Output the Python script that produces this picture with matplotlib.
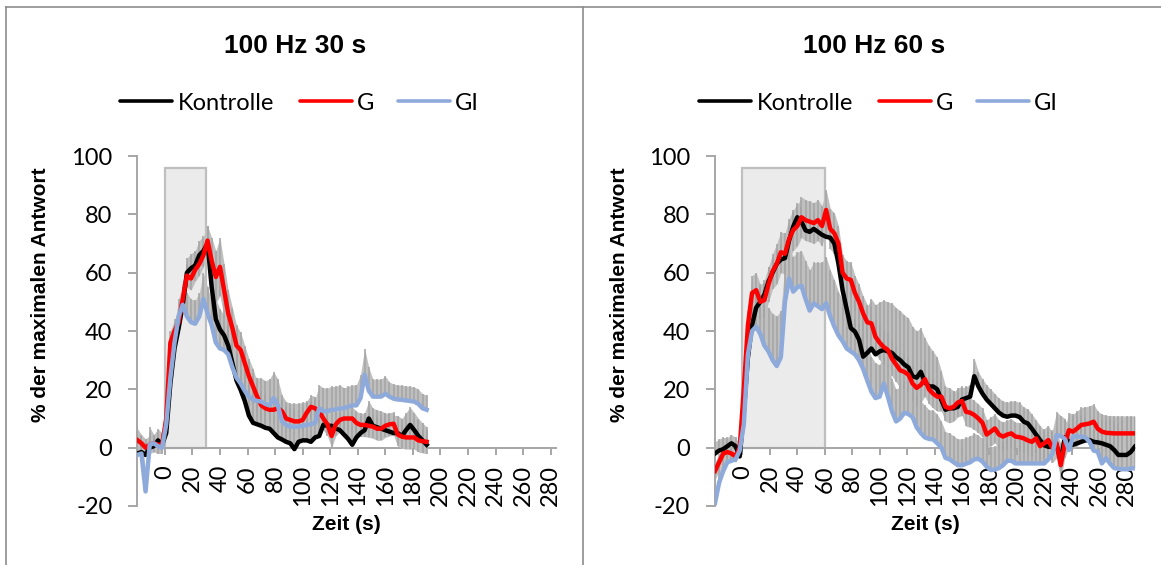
import numpy as np
import matplotlib
matplotlib.use("Agg")
import matplotlib.pyplot as plt
from matplotlib.patches import Rectangle
from matplotlib.lines import Line2D

plt.rcParams["axes.unicode_minus"] = False

# ---------------- data ----------------
series_names = ["Kontrolle", "G", "GI"]
series_colors = ["#000000", "#ff0000", "#8eaadb"]
error_direction = ["plus", "both", "plus"]
titles = ["100 Hz 30 s", "100 Hz 60 s"]
stim_duration = [30, 60]
stim_height = 96
xticks = [0, 20, 40, 60, 80, 100, 120, 140, 160, 180, 200, 220, 240, 260, 280]
yticks = [-20, 0, 20, 40, 60, 80, 100]

# 30 s panel (time in s, step 3 s from -20 to 190)
t30 = np.arange(-20, 191, 3)
k30 = [-2, -1.5, -2.5, 0, 0.5, 2.5, 1, 5, 22, 34,
       41, 49, 60, 61.5, 62.5, 66, 67.5, 70, 55, 44,
       40.5, 38.5, 35, 29, 23, 19.8, 16, 11, 8.5, 8,
       7.5, 6.8, 6.5, 5, 3.5, 2.8, 2, 1.5, -0.5, 2,
       2.5, 2.5, 2, 3.5, 4, 7.8, 7.5, 7.5, 6.6, 6,
       4.5, 3, 1, 3.5, 5, 6, 10, 7.5, 7, 6.5,
       6, 5.5, 5, 5, 4, 6, 7.8, 6, 4, 2.5,
       1]
g30 = [2.6, 1.5, 0, 1, 1.5, 1, 1, 10, 36, 40,
       43, 51, 59, 58, 61, 63, 66, 71, 64, 58.5,
       62, 54, 46, 41, 35, 33.5, 29, 24.5, 21, 17.5,
       14.5, 13.5, 13, 13, 13.5, 12.5, 10, 9.5, 9, 9,
       9.5, 12, 14, 13.5, 12.5, 10, 8, 4, 8, 9.5,
       10, 10, 10, 8.5, 7.8, 7.8, 7.5, 7.2, 6.5, 6.5,
       7.5, 8, 8.2, 4.5, 3.8, 3.5, 3.5, 3.5, 2.5, 2.2,
       2]
gi30 = [-2.5, -2, -15, 1, 1.5, 0.5, 0, 8, 24, 36,
        45, 49, 45, 43, 42.5, 45, 51, 46, 42, 36,
        34, 33.5, 32, 27.5, 24, 22, 19.5, 17.5, 16.5, 16,
        15.8, 15, 14.5, 17, 14.5, 9, 7.8, 7.2, 7.2, 7.2,
        7.5, 7.8, 8, 8.5, 13.5, 12.5, 12.5, 13, 13, 13.5,
        13.5, 14, 14.5, 14.5, 17, 25, 19.5, 17.5, 17.5, 17.5,
        18.5, 17.5, 16.8, 16.5, 16.4, 16.2, 16, 15.8, 15, 13.5,
        13]
k30_err = [6, 5, 4, 5, 4, 4, 4, 2, 4, 5,
           5, 5, 5, 5, 5, 5, 5, 6, 7, 7,
           7, 7, 7, 7, 7, 7, 7, 7, 7, 7,
           7, 6, 6, 6, 6, 6, 6, 6, 6, 6,
           6, 6, 6, 6, 6, 6, 6, 6, 6, 6,
           6, 6, 6, 6, 6, 6, 6, 6, 6, 6,
           6, 6, 6, 6, 6, 6, 6, 6, 6, 6,
           6]
g30_err = [4, 3, 3, 3, 3, 3, 3, 2, 4, 4,
           4, 4, 4, 4, 4, 4, 4, 5, 8, 9,
           10, 9, 8, 7, 7, 6, 6, 6, 6, 5,
           5, 5, 4, 4, 4, 4, 4, 4, 4, 4,
           4, 4, 4, 4, 4, 4, 4, 4, 4, 4,
           4, 4, 4, 4, 4, 4, 4, 4, 4, 4,
           4, 4, 4, 4, 4, 4, 4, 4, 4, 4,
           4]
gi30_err = [8, 6, 7, 6, 3, 3, 3, 3, 6, 6,
            6, 7, 8, 8, 8, 8, 9, 9, 8, 8,
            8, 8, 8, 8, 8, 8, 8, 8, 8, 8,
            8, 8, 9, 9, 9, 9, 8, 8, 8, 8,
            8, 8, 8, 8, 8, 8, 8, 8, 8, 8,
            7, 7, 7, 7, 8, 9, 8, 6, 6, 6,
            6, 5, 5, 5, 5, 5, 5, 5, 5, 5,
            5]

# 60 s panel (time in s, step 3 s from -20 to 286)
t60 = np.arange(-20, 287, 3)
k60 = [-2, -1, -0.5, 0.5, 1.5, 0.5, -3, 12, 31, 42,
       48, 50, 52.5, 57, 60, 63, 64.5, 65, 71, 75.8,
       79, 77.5, 74.5, 74, 75, 74, 73, 72.3, 72, 70,
       63, 54, 47.5, 41, 39.8, 37, 31.2, 32.5, 34, 32,
       33, 33.5, 33, 32.5, 31, 30, 28.5, 27.5, 24.5, 24,
       26, 22.5, 21, 21, 20, 16.3, 13, 13.5, 13.5, 14,
       16.5, 17, 17.5, 24.5, 21, 18.5, 16.5, 15, 13.5, 12,
       11, 10.6, 11, 11, 10.5, 8.9, 8.3, 6.5, 4.5, 2.6,
       0.8, 0.3, 0.3, 0.9, -4.5, 3.5, 2, 1, 1.5, 2,
       2.5, 2.6, 2, 1.8, 1.5, 1, 0.5, -0.8, -2.5, -2.5,
       -2.5, -1.5, 0.3]
g60 = [-8, -5, -2, -1.5, -2, -3, 0, 20, 42, 53,
       54, 50, 50.6, 56, 60.5, 63, 67, 66.5, 71.5, 74.6,
       76, 79, 78, 77.5, 77, 78, 76, 81.5, 75, 73.5,
       70, 60, 58, 57.5, 53, 50, 46, 43, 42.6, 38,
       36, 34.5, 33.5, 30.5, 28.5, 26.5, 26, 25, 22, 20.5,
       21.5, 23.5, 20, 18.5, 17.5, 17.5, 14, 13.5, 14, 15.5,
       16, 12.3, 12, 11.2, 10, 8.5, 4.5, 5.5, 6.6, 4.5,
       3.8, 4.5, 4.9, 3.8, 3.6, 3.2, 2.5, 2, 3.2, 0.5,
       1.5, 2.6, -0.2, 1.5, -6, 1.5, 6, 5.5, 6.6, 7.8,
       8, 8.3, 8.9, 6.5, 5.5, 5.1, 5, 4.9, 4.9, 4.9,
       4.9, 4.9, 4.9]
gi60 = [-19, -12, -8, -5, -4.5, -4, -1, 8, 32, 40,
        41.5, 39, 35, 33, 30, 28, 31, 50, 58, 53.5,
        55, 55.5, 51, 47, 49.5, 48.5, 47.5, 49.5, 45, 41.5,
        38.5, 36.5, 34, 33, 32, 30, 27, 23, 19.2, 17,
        17.5, 22, 17.5, 12.5, 9, 10, 12, 11.5, 10.5, 7,
        5, 3.5, 3, 2.8, 1.5, 0, -3.5, -4, -5, -6,
        -6, -5.5, -5, -4, -3.8, -4.8, -6.5, -7.7, -7.5, -7,
        -6, -4.5, -4.5, -5.4, -5.4, -5.4, -5.4, -5.4, -5.4, -5.4,
        -5.4, -4, -2, 4.3, 4, 3, -0.8, 3.8, 3.8, 3.8,
        3.5, 2, -1, -1.4, -5.4, -3.6, -5.5, -7, -7.2, -7.4,
        -7.4, -7.2, -7]
k60_err = [4, 4, 4, 3, 3, 3, 4, 3, 5, 5,
           5, 5, 5, 5, 5, 5, 5, 5, 5, 5,
           5, 5, 5, 5, 5, 5, 5, 5, 5, 6,
           8, 10, 12, 13, 14, 15, 16, 16, 17, 17,
           17, 17, 17, 17, 17, 17, 17, 17, 17, 16,
           15, 15, 14, 12, 11, 10, 8, 7, 6, 5,
           4, 4, 4, 6, 5, 5, 5, 5, 5, 5,
           5, 5, 5, 5, 5, 5, 5, 5, 5, 5,
           5, 5, 5, 5, 6, 6, 6, 6, 6, 6,
           7, 7, 7, 7, 8, 8, 9, 10, 11, 12,
           13, 12, 10]
g60_err = [3, 3, 2, 2, 2, 2, 2, 3, 5, 6,
           6, 6, 6, 6, 6, 7, 7, 7, 7, 7,
           7, 7, 7, 7, 7, 7, 7, 7, 7, 7,
           6, 6, 6, 6, 6, 6, 6, 6, 6, 6,
           6, 6, 6, 6, 6, 6, 6, 6, 6, 6,
           6, 6, 5, 5, 5, 5, 5, 5, 5, 5,
           5, 5, 5, 5, 5, 5, 5, 5, 5, 5,
           5, 5, 5, 5, 5, 5, 5, 5, 5, 5,
           5, 5, 5, 5, 5, 5, 6, 6, 6, 6,
           6, 6, 6, 6, 6, 6, 6, 6, 6, 6,
           6, 6, 6]
gi60_err = [4, 4, 4, 4, 4, 4, 4, 3, 6, 8,
            10, 12, 14, 15, 16, 17, 16, 13, 10, 12,
            12, 12, 13, 14, 14, 15, 16, 16, 16, 16,
            15, 14, 13, 12, 12, 12, 12, 12, 12, 12,
            11, 11, 11, 11, 11, 11, 11, 11, 11, 11,
            11, 11, 10, 10, 10, 9, 9, 9, 9, 9,
            9, 9, 9, 9, 8, 8, 8, 8, 8, 8,
            8, 8, 8, 8, 8, 8, 8, 8, 8, 8,
            8, 8, 8, 8, 7, 7, 7, 7, 7, 7,
            7, 7, 7, 7, 7, 7, 6, 6, 6, 6,
            6, 6, 6]

panels = [
    dict(t=t30, means=[k30, g30, gi30], errs=[k30_err, g30_err, gi30_err], xmax=283.5),
    dict(t=t60, means=[k60, g60, gi60], errs=[k60_err, g60_err, gi60_err], xmax=286),
]

# ---------------- figure ----------------
W, H = 1161, 565
fig = plt.figure(figsize=(W / 100, H / 100), dpi=100)

TICK_FONT = "Lato"
BOLD_FONT = "Liberation Sans"
AXIS_COLOR = "#a6a6a6"

axes_px = [(137.3, 418.2), (715.0, 419.8)]   # left px, width px
ax_top, ax_bot = 156.0, 506.0
panel_shift = [0, 579]

def fx(px):
    return px / W

def fy(py):
    return 1 - py / H

for i, p in enumerate(panels):
    left, width = axes_px[i]
    ax = fig.add_axes([fx(left), fy(ax_bot), width / W, (ax_bot - ax_top) / H])
    t = p["t"]

    ax.add_patch(Rectangle((0, 0), stim_duration[i], stim_height,
                           facecolor="#ebebeb", edgecolor="#bfbfbf", lw=1.6, zorder=1))

    for m, e, d in zip(p["means"], p["errs"], error_direction):
        m = np.asarray(m, float)
        e = np.asarray(e, float)
        lo = m - e if d == "both" else m
        hi = m + e
        ax.fill_between(t, lo, hi, color="#bfbfbf", lw=0, zorder=2)
        ax.vlines(t, lo, hi, color="#a4a4a4", lw=1.1, zorder=2.1)

    for j, (m, c) in enumerate(zip(p["means"], series_colors)):
        ax.plot(t, m, color=c, lw=3.2, zorder=3 + j, solid_joinstyle="round")

    ax.spines["top"].set_visible(False)
    ax.spines["right"].set_visible(False)
    ax.spines["bottom"].set_position(("data", 0))
    for s in ("left", "bottom"):
        ax.spines[s].set_color(AXIS_COLOR)
        ax.spines[s].set_linewidth(1.4)
        ax.spines[s].set_zorder(1.5)

    ax.set_xlim(-20, p["xmax"])
    ax.set_ylim(-20, 100)
    ax.set_yticks(yticks)
    ax.set_xticks(xticks)
    ax.set_xticklabels([str(v) for v in xticks])
    ax.tick_params(axis="x", direction="out", length=5, width=1.4, color=AXIS_COLOR,
                   pad=7.5, labelrotation=90)
    ax.tick_params(axis="y", direction="out", length=6.5, width=1.4, color=AXIS_COLOR, pad=11.5)
    for lab in ax.get_xticklabels() + ax.get_yticklabels():
        lab.set_fontfamily(TICK_FONT)
        lab.set_fontsize(17)
    ax.xaxis.set_zorder(2.6)
    ax.patch.set_alpha(0)

    sh = panel_shift[i]
    # title
    fig.text(fx(295 + sh), fy(53.3), titles[i], ha="center", va="baseline",
             fontsize=19, fontweight="bold", family=BOLD_FONT)
    # axis labels
    fig.text(fx(40.6 + sh), fy(294.5), "% der maximalen Antwort", rotation=90,
             ha="center", va="center", fontsize=15, fontweight="bold", family=BOLD_FONT)
    fig.text(fx(346 + sh), fy(524), "Zeit (s)", ha="center", va="center",
             fontsize=15, fontweight="bold", family=BOLD_FONT)
    # legend
    leg_lines = [(120, 172, 178), (300, 352, 357), (398, 450, 455)]
    for (x0, x1, xt), name, c in zip(leg_lines, series_names, series_colors):
        fig.add_artist(Line2D([fx(x0 + sh), fx(x1 + sh)], [fy(101), fy(101)],
                              transform=fig.transFigure, color=c, lw=2.6,
                              solid_capstyle="round"))
        fig.text(fx(xt + sh), fy(110), name, ha="left", va="baseline",
                 fontsize=17, family=TICK_FONT)

# panel frames
frame_c = "#8c8c8c"
fig.add_artist(Line2D([fx(5.6), 1], [fy(7.2), fy(7.2)], transform=fig.transFigure, color=frame_c, lw=1.2))
fig.add_artist(Line2D([fx(5.6), fx(5.6)], [fy(7.2), 0], transform=fig.transFigure, color=frame_c, lw=1.2))
fig.add_artist(Line2D([fx(583), fx(583)], [fy(7.2), 0], transform=fig.transFigure, color=frame_c, lw=1.2))

fig.savefig("out.png", dpi=100)
